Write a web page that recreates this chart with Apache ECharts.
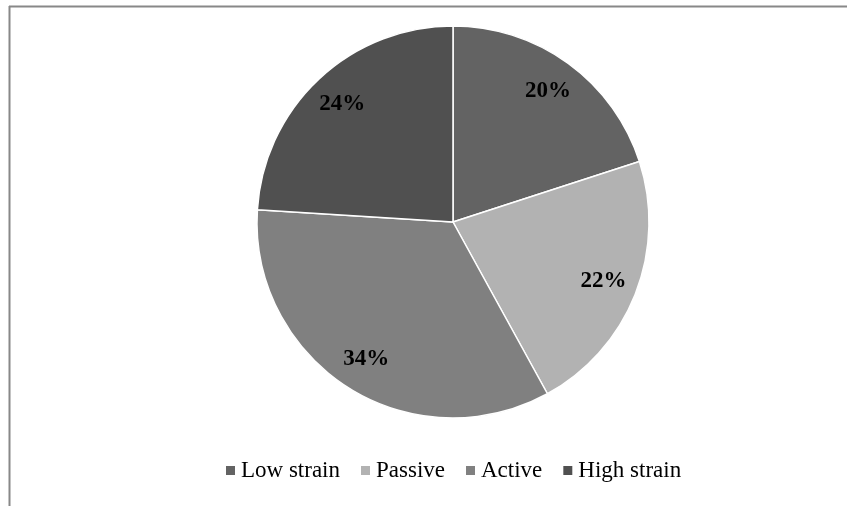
<!DOCTYPE html>
<html>
<head>
<meta charset="utf-8">
<script src="https://cdn.jsdelivr.net/npm/echarts@6/dist/echarts.min.js"></script>
<style>html,body{margin:0;padding:0;background:#fff}#c{width:847px;height:506px}</style>
</head>
<body>
<div id="c"></div>
<script>
var categories = ['Low strain', 'Passive', 'Active', 'High strain'];
var values = [20, 22, 34, 24];
var colors = ['#636363', '#b2b2b2', '#808080', '#505050'];

var chart = echarts.init(document.getElementById('c'), null, {renderer: 'canvas'});
var pieData = categories.map(function (n, i) {
  return {name: n, value: values[i], itemStyle: {color: colors[i]}};
});
var labelData = categories.map(function (n, i) {
  return {name: n, value: values[i], itemStyle: {color: 'rgba(0,0,0,0)'}};
});
var R = 196;
chart.setOption({
  animation: false,
  color: colors,
  graphic: [
    {type: 'line', shape: {x1: 9, y1: 6.5, x2: 847, y2: 6.5}, style: {stroke: '#888', lineWidth: 2}, silent: true},
    {type: 'line', shape: {x1: 9.5, y1: 6, x2: 9.5, y2: 506}, style: {stroke: '#888', lineWidth: 2}, silent: true}
  ],
  legend: {
    data: categories,
    left: 219,
    top: 454,
    icon: 'rect',
    itemWidth: 11,
    itemHeight: 11,
    itemGap: 19,
    selectedMode: false,
    textStyle: {fontFamily: 'Liberation Serif', fontSize: 23, color: '#000'}
  },
  series: [
    {
      type: 'pie',
      center: [453, 222],
      radius: [0, R],
      startAngle: 90,
      clockwise: true,
      silent: true,
      label: {show: false},
      labelLine: {show: false},
      itemStyle: {borderColor: '#fff', borderWidth: 1.5},
      data: pieData
    },
    {
      type: 'pie',
      center: [453, 222],
      radius: [R * 0.62, R],
      startAngle: 90,
      clockwise: true,
      silent: true,
      legendHoverLink: false,
      label: {
        show: true,
        position: 'inside',
        formatter: '{d}%',
        fontFamily: 'Liberation Serif',
        fontWeight: 'bold',
        fontSize: 23,
        color: '#000'
      },
      labelLine: {show: false},
      data: labelData
    }
  ]
});
</script>
</body>
</html>
